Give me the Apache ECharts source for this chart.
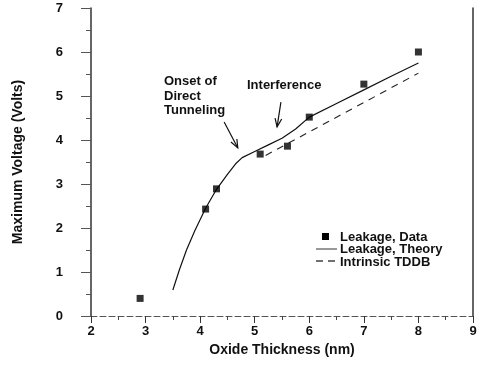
<!DOCTYPE html>
<html>
<head>
<meta charset="utf-8">
<script src="https://cdn.jsdelivr.net/npm/echarts@6/dist/echarts.min.js"></script>
<style>
  html, body { margin: 0; padding: 0; background: #fff; }
  #chart { width: 479px; height: 377px; }
</style>
</head>
<body>
<div id="chart"></div>
<script>
  // measured points (Leakage, Data)
  var dataX = [2.9, 4.1, 4.3, 5.1, 5.6, 6.0, 7.0, 8.0];
  var dataY = [0.4, 2.43, 2.89, 3.68, 3.86, 4.52, 5.27, 6.0];
  // Leakage, Theory
  var theoryX = [3.5, 3.62, 3.75, 3.9, 4.1, 4.3, 4.5, 4.65, 4.77, 5.0, 5.25, 5.5, 5.75, 6.0, 6.5, 7.0, 7.5, 8.0];
  var theoryY = [0.59, 1.05, 1.5, 1.93, 2.45, 2.88, 3.22, 3.46, 3.6, 3.74, 3.89, 4.04, 4.25, 4.52, 4.83, 5.14, 5.45, 5.75];
  // Intrinsic TDDB
  var tddbX = [5.2, 8.0];
  var tddbY = [3.65, 5.52];
  // tick labels
  var xTicks = [2, 3, 4, 5, 6, 7, 8, 9];
  var yTicks = [0, 1, 2, 3, 4, 5, 6, 7];
  // annotation arrows [from, to] in data units
  var onsetArrow = [[4.44, 4.41], [4.69, 3.82]];
  var interfArrow = [[5.48, 4.86], [5.41, 4.30]];

  function pairs(xs, ys) {
    return xs.map(function (x, i) { return [x, ys[i]]; });
  }

  var font = 'Liberation Sans, Arial, sans-serif';
  var chart = echarts.init(document.getElementById('chart'));

  chart.setOption({
    animation: false,
    grid: {
      left: 91,
      right: 6,
      top: 8,
      bottom: 61,
      containLabel: false,
      outerBoundsMode: 'none'
    },
    xAxis: {
      type: 'value',
      min: xTicks[0],
      max: xTicks[xTicks.length - 1],
      interval: 1,
      name: 'Oxide Thickness (nm)',
      nameLocation: 'middle',
      nameGap: 19,
      nameTextStyle: { fontFamily: font, fontWeight: 'bold', fontSize: 14, color: '#111' },
      axisLine: { lineStyle: { color: '#555', width: 1, type: [6, 3] } },
      axisTick: { length: 7, lineStyle: { color: '#333' } },
      minorTick: { show: true, splitNumber: 2, length: 4, lineStyle: { color: '#444' } },
      axisLabel: { margin: 9, fontFamily: font, fontWeight: 'bold', fontSize: 13, color: '#111' },
      splitLine: { show: false }
    },
    yAxis: [{
      type: 'value',
      min: yTicks[0],
      max: yTicks[yTicks.length - 1],
      interval: 1,
      name: 'Maximum Voltage (Volts)',
      nameLocation: 'middle',
      nameGap: 66,
      nameTextStyle: { fontFamily: font, fontWeight: 'bold', fontSize: 14, color: '#111' },
      axisLine: { show: true, lineStyle: { color: '#333', width: 1.5 } },
      axisTick: { length: 10, lineStyle: { color: '#555' } },
      minorTick: { show: true, splitNumber: 2, length: 5, lineStyle: { color: '#555' } },
      axisLabel: { margin: 28, fontFamily: font, fontWeight: 'bold', fontSize: 13, color: '#111' },
      splitLine: { show: false }
    }, {
      type: 'value',
      position: 'right',
      min: yTicks[0],
      max: yTicks[yTicks.length - 1],
      axisLine: { show: true, lineStyle: { color: '#333', width: 1.5 } },
      axisTick: { show: false },
      axisLabel: { show: false },
      splitLine: { show: false }
    }],
    series: [
      {
        name: 'Leakage, Theory',
        type: 'line',
        data: pairs(theoryX, theoryY),
        symbol: 'none',
        lineStyle: { color: '#111', width: 1.2 },
        z: 2
      },
      {
        name: 'Intrinsic TDDB',
        type: 'line',
        data: pairs(tddbX, tddbY),
        symbol: 'none',
        lineStyle: { color: '#222', width: 1.1, type: [7, 6] },
        z: 2
      },
      {
        name: 'Leakage, Data',
        type: 'scatter',
        data: pairs(dataX, dataY),
        symbol: 'rect',
        symbolSize: 7,
        itemStyle: { color: '#000' },
        z: 3
      }
    ]
  });

  function arrow(pts) {
    var a = chart.convertToPixel({ gridIndex: 0 }, pts[0]);
    var b = chart.convertToPixel({ gridIndex: 0 }, pts[1]);
    var ang = Math.atan2(b[1] - a[1], b[0] - a[0]);
    var h = 9, s = 0.38;
    var l = [b[0] - h * Math.cos(ang - s), b[1] - h * Math.sin(ang - s)];
    var r = [b[0] - h * Math.cos(ang + s), b[1] - h * Math.sin(ang + s)];
    var st = { stroke: '#111', lineWidth: 1.2, fill: null };
    return [
      { type: 'polyline', shape: { points: [a, b] }, style: st },
      { type: 'polyline', shape: { points: [l, b, r] }, style: st }
    ];
  }

  var txt = { fontFamily: font, fontWeight: 'bold', fontSize: 13, fill: '#111' };
  function label(x, y, s) {
    return { type: 'text', x: x, y: y, style: Object.assign({ text: s, verticalAlign: 'middle' }, txt) };
  }

  var g = [].concat(
    arrow(onsetArrow),
    arrow(interfArrow),
    [
      label(164, 81, 'Onset of'),
      label(164, 96, 'Direct'),
      label(164, 110, 'Tunneling'),
      label(247, 85, 'Interference'),
      // legend
      { type: 'rect', shape: { x: 322, y: 233, width: 7, height: 7 }, style: { fill: '#000' } },
      label(340, 237, 'Leakage, Data'),
      { type: 'line', shape: { x1: 316, y1: 249, x2: 337, y2: 249 }, style: { stroke: '#333', lineWidth: 1 } },
      label(340, 249, 'Leakage, Theory'),
      { type: 'line', shape: { x1: 316, y1: 261, x2: 323, y2: 261 }, style: { stroke: '#111', lineWidth: 1.2 } },
      { type: 'line', shape: { x1: 328, y1: 261, x2: 335, y2: 261 }, style: { stroke: '#111', lineWidth: 1.2 } },
      label(340, 262, 'Intrinsic TDDB')
    ]
  );
  chart.setOption({ graphic: g });
</script>
</body>
</html>
